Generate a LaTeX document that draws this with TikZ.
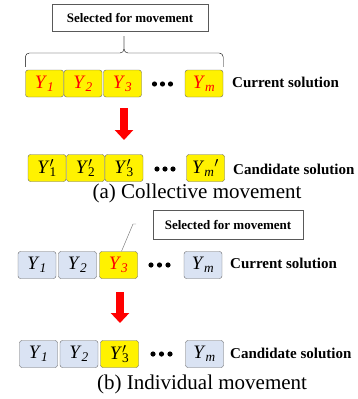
\documentclass[tikz,border=0pt]{standalone}
\usepackage{fontspec}
\setmainfont{Liberation Serif}
\usetikzlibrary{arrows.meta}
\definecolor{cellblue}{RGB}{218,227,243}
\newcommand{\yv}[1]{\textit{Y}\textsubscript{\textit{#1}}}
\newcommand{\yp}[1]{\textit{Y}\rlap{\textsuperscript{$\prime$}}\textsubscript{#1}}
\newcommand{\ym}{\textit{Y}\textsubscript{\textit{m}}\textsuperscript{$\prime$}}

\begin{document}
\begin{tikzpicture}[x=1pt,y=-1pt,
  cell/.style={draw=black!60,rounded corners=2.5pt,minimum width=38pt,minimum height=27pt,inner sep=0pt,font=\fontsize{19}{19}\selectfont},
  yel/.style={cell,fill=yellow},
  blu/.style={cell,fill=cellblue},
  lbl/.style={anchor=west,inner sep=0pt,font=\bfseries\fontsize{15}{15}\selectfont},
  sel/.style={draw=black!65,inner sep=0pt,font=\bfseries\fontsize{13}{13}\selectfont},
  captext/.style={inner sep=0pt,font=\fontsize{21}{21}\selectfont},
  mover/.style={red,line width=8pt,-{Triangle[width=18pt,length=10pt]}}]
\useasboundingbox (0,0) rectangle (357,399);

% (a) collective
\begin{scope}
\node[sel,minimum width=156pt,minimum height=27pt] (sela) at (130,17.5) {Selected for movement};

\node[yel,text=red] (a1) at (44.5,83.5) {\yv{1}};
\node[yel,text=red] (a2) at (83,83.5) {\yv{2}};
\node[yel,text=red] (a3) at (122.5,83.5) {\yv{3}};
\node[yel,text=red] (am) at (204,83.5) {\yv{m}};
\foreach \x in {154.5,162.5,170.5} \fill (\x,84) circle (2.6);
\node[lbl] (cura) at (232,82.5) {Current solution};

% brace
\draw[rounded corners=4pt] (a1.north west) ++(0,-3) |- (124,53) -- (124,36);
\draw[rounded corners=4pt] (am.north east) ++(0,-3) |- (124,53) -- (124,36);

\coordinate (fa) at (124,108);
\coordinate (ta) at (124,140);
\draw[mover] (fa) -- (ta);

\node[yel] (b1) at (47,168) {\yp{1}};
\node[yel] (b2) at (85.5,168) {\yp{2}};
\node[yel] (b3) at (124,168) {\yp{3}};
\node[yel] (bm) at (205.5,168) {\ym};
\foreach \x in {157,165,173} \fill (\x,169) circle (2.6);
\node[lbl] (cana) at (233,169) {Candidate solution};

\node[captext] (capa) at (197,193) {(a) Collective movement};
\end{scope}

% (b) individual
\begin{scope}
\node[sel,minimum width=150pt,minimum height=29pt] (selb) at (228,224.5) {Selected for movement};

\node[blu] (c1) at (37,265) {\yv{1}};
\node[blu] (c2) at (77.5,265) {\yv{2}};
\node[yel,text=red] (c3) at (118.5,265) {\yv{3}};
\node[blu] (cm) at (203,265) {\yv{m}};
\foreach \x in {151,159.5,168} \fill (\x,265) circle (2.6);
\node[lbl] (curb) at (230,263) {Current solution};

\coordinate (lead) at (133,224);
\draw[black!60] ([xshift=3pt]c3.north) -- (lead) -- ++(3,0);

\coordinate (fb) at (120,292);
\coordinate (tb) at (120,323);
\draw[mover] (fb) -- (tb);

\node[blu] (d1) at (38.5,354) {\yv{1}};
\node[blu] (d2) at (79,354) {\yv{2}};
\node[yel] (d3) at (119.5,354) {\yp{3}};
\node[blu] (dm) at (204.5,354) {\yv{m}};
\foreach \x in {153,161.5,170} \fill (\x,354) circle (2.6);
\node[lbl] (canb) at (230,353) {Candidate solution};

\node[captext] (capb) at (202,384) {(b) Individual movement};
\end{scope}
\end{tikzpicture}
\end{document}
